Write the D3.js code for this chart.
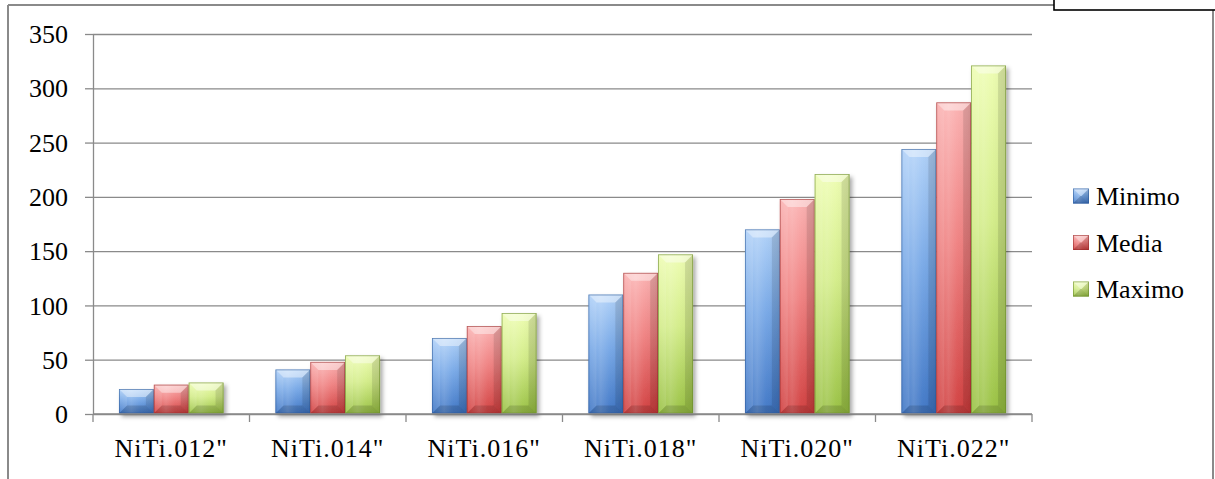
<!DOCTYPE html>
<html>
<head>
<meta charset="utf-8">
<script src="https://cdn.jsdelivr.net/npm/d3@7/dist/d3.min.js"></script>
<style>
  html, body { margin: 0; padding: 0; background: #fff; }
  svg { display: block; }
  text { font-family: "Liberation Serif", "Times New Roman", serif; }
</style>
</head>
<body>
<svg id="chart" width="1215" height="479"></svg>
<script>
// ---- data ----
const categories = ['NiTi.012"', 'NiTi.014"', 'NiTi.016"', 'NiTi.018"', 'NiTi.020"', 'NiTi.022"'];
const seriesNames = ["Minimo", "Media", "Maximo"];
const minimo = [23, 41, 70, 110, 170, 244];
const media  = [27, 48, 81, 130, 198, 287];
const maximo = [29, 54, 93, 147, 221, 321];
const yTicks = [0, 50, 100, 150, 200, 250, 300, 350];

const seriesValues = [minimo, media, maximo];

// ---- styling ----
const palette = [
  { light: "#aed0f8", mid: "#74a6e6", dark: "#3b73c4", edge: "#2c5a9a" },
  { light: "#fbb0b0", mid: "#ef7e7e", dark: "#d03b3b", edge: "#9a2c2c" },
  { light: "#edfdb0", mid: "#d2ec86", dark: "#97c03f", edge: "#6a8a2a" }
];

const svg = d3.select("#chart");
const W = 1215, H = 479;
const plot = { left: 93, right: 1032, top: 34, bottom: 414 };

// ---- gradients and shadow ----
const defs = svg.append("defs");
palette.forEach((p, i) => {
  const g = defs.append("linearGradient")
    .attr("id", "grad" + i)
    .attr("x1", 0).attr("y1", 0).attr("x2", 0).attr("y2", 1);
  g.append("stop").attr("offset", "0%").attr("stop-color", p.light);
  g.append("stop").attr("offset", "45%").attr("stop-color", p.mid);
  g.append("stop").attr("offset", "100%").attr("stop-color", p.dark);
  const h = defs.append("linearGradient")
    .attr("id", "sheen" + i)
    .attr("x1", 0).attr("y1", 0).attr("x2", 1).attr("y2", 0);
  h.append("stop").attr("offset", "0%").attr("stop-color", "#fff").attr("stop-opacity", 0.0);
  h.append("stop").attr("offset", "35%").attr("stop-color", "#fff").attr("stop-opacity", 0.18);
  h.append("stop").attr("offset", "60%").attr("stop-color", "#fff").attr("stop-opacity", 0.05);
  h.append("stop").attr("offset", "100%").attr("stop-color", "#000").attr("stop-opacity", 0.06);
});
const shadow = defs.append("filter").attr("id", "barShadow")
  .attr("x", "-20%").attr("y", "-20%").attr("width", "160%").attr("height", "160%");
shadow.append("feDropShadow")
  .attr("dx", 2.5).attr("dy", 3).attr("stdDeviation", 2.2)
  .attr("flood-color", "#000").attr("flood-opacity", 0.35);

// ---- outer frame ----
const frame = svg.append("g").attr("stroke", "#8a8a8a").attr("stroke-width", 2).attr("fill", "none");
frame.append("line").attr("x1", 8).attr("y1", 5).attr("x2", 8).attr("y2", H);
frame.append("line").attr("x1", 8).attr("y1", 5).attr("x2", 1054).attr("y2", 5);
frame.append("line").attr("x1", 1213).attr("y1", 10).attr("x2", 1213).attr("y2", H);
svg.append("rect")
  .attr("x", 1054).attr("y", -4).attr("width", 200).attr("height", 14)
  .attr("fill", "#fff").attr("stroke", "#000").attr("stroke-width", 1.6);

// ---- scales ----
const x = d3.scaleBand().domain(categories).range([plot.left, plot.right]).padding(0);
const inset = x.bandwidth() * 0.166;
const xs = d3.scaleBand().domain(seriesNames).range([inset, x.bandwidth() - inset]).padding(0);
const y = d3.scaleLinear().domain([0, 350]).range([plot.bottom, plot.top]);

// ---- gridlines ----
const grid = svg.append("g")
  .attr("transform", `translate(${plot.left},0)`)
  .call(d3.axisLeft(y).tickValues(yTicks).tickSize(-(plot.right - plot.left)).tickFormat(""));
grid.select(".domain").remove();
grid.selectAll(".tick line").attr("stroke", "#8a8a8a").attr("stroke-width", 1.3);

// ---- y axis ----
const yAxis = svg.append("g")
  .attr("transform", `translate(${plot.left},0)`)
  .call(d3.axisLeft(y).tickValues(yTicks).tickSize(8).tickPadding(17).tickSizeOuter(0));
yAxis.select(".domain").attr("stroke", "#8a8a8a").attr("stroke-width", 1.3);
yAxis.selectAll(".tick line").attr("stroke", "#8a8a8a").attr("stroke-width", 1.3);
yAxis.selectAll(".tick text")
  .attr("font-family", '"Liberation Serif", serif')
  .attr("font-size", 26).attr("fill", "#000").attr("dy", "0.33em");

// ---- bars ----
function bevelBar(g, x0, y0, w, h, i) {
  const p = palette[i];
  const b = Math.max(0, Math.min(8, h / 2, w / 2));
  g.append("rect").attr("x", x0).attr("y", y0).attr("width", w).attr("height", h)
    .attr("fill", `url(#grad${i})`);
  g.append("rect").attr("x", x0).attr("y", y0).attr("width", w).attr("height", h)
    .attr("fill", `url(#sheen${i})`);
  const pt = (a) => a.map(d => d.join(",")).join(" ");
  // top facet
  g.append("polygon").attr("points", pt([[x0, y0], [x0 + w, y0], [x0 + w - b, y0 + b], [x0 + b, y0 + b]]))
    .attr("fill", "#fff").attr("fill-opacity", 0.42);
  // left facet
  g.append("polygon").attr("points", pt([[x0, y0], [x0 + b, y0 + b], [x0 + b, y0 + h - b], [x0, y0 + h]]))
    .attr("fill", "#fff").attr("fill-opacity", 0.10);
  // right facet
  g.append("polygon").attr("points", pt([[x0 + w, y0], [x0 + w - b, y0 + b], [x0 + w - b, y0 + h - b], [x0 + w, y0 + h]]))
    .attr("fill", "#000").attr("fill-opacity", 0.10);
  // bottom facet
  g.append("polygon").attr("points", pt([[x0, y0 + h], [x0 + w, y0 + h], [x0 + w - b, y0 + h - b], [x0 + b, y0 + h - b]]))
    .attr("fill", "#000").attr("fill-opacity", 0.14);
  g.append("rect").attr("x", x0 + 0.4).attr("y", y0 + 0.4).attr("width", Math.max(0, w - 0.8)).attr("height", Math.max(0, h - 0.8))
    .attr("fill", "none").attr("stroke", p.edge).attr("stroke-opacity", 0.7).attr("stroke-width", 0.8);
}

const barsLayer = svg.append("g");
categories.forEach((c, ci) => {
  seriesNames.forEach((s, si) => {
    const v = seriesValues[si][ci];
    const g = barsLayer.append("g").attr("filter", "url(#barShadow)");
    const x0 = x(c) + xs(s);
    const y0 = y(v);
    bevelBar(g, x0, y0, xs.bandwidth(), y(0) - y0 - 0.5, si);
  });
});

// ---- x axis ----
const baseY = y(0);
svg.append("line")
  .attr("x1", plot.left).attr("x2", plot.right).attr("y1", baseY).attr("y2", baseY)
  .attr("stroke", "#8a8a8a").attr("stroke-width", 1.3);
const boundaries = categories.map(c => x(c)).concat([x(categories[categories.length - 1]) + x.bandwidth()]);
svg.append("g").selectAll("line").data(boundaries).join("line")
  .attr("x1", d => d).attr("x2", d => d).attr("y1", baseY).attr("y2", baseY + 8)
  .attr("stroke", "#8a8a8a").attr("stroke-width", 1.3);
const xAxis = svg.append("g")
  .attr("transform", `translate(0,${baseY})`)
  .call(d3.axisBottom(x).tickSize(0).tickPadding(24.5));
xAxis.select(".domain").remove();
xAxis.selectAll(".tick text")
  .attr("font-family", '"Liberation Serif", serif')
  .attr("font-size", 26).attr("fill", "#000").attr("letter-spacing", 1);

// ---- legend ----
const legend = svg.append("g");
seriesNames.forEach((s, i) => {
  const cy = 196 + i * 46.5;
  const g = legend.append("g");
  bevelBar(g, 1073, cy - 7.5, 16, 15, i);
  legend.append("text")
    .attr("x", 1096).attr("y", cy + 9)
    .attr("font-size", 26).attr("fill", "#000")
    .text(s);
});
</script>
</body>
</html>
